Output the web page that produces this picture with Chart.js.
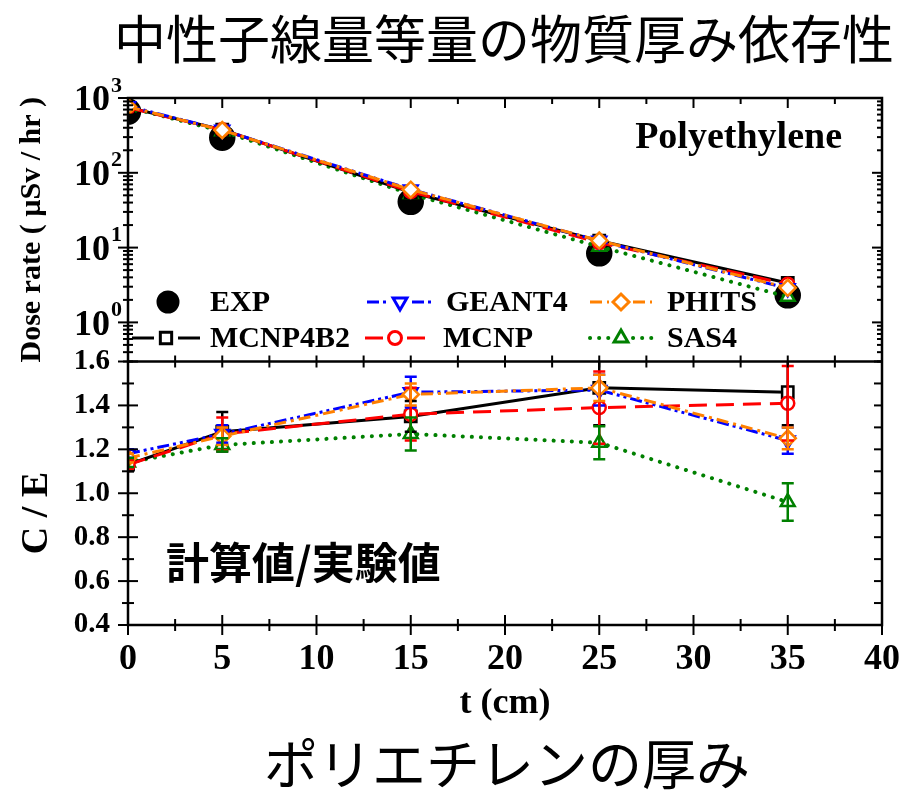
<!DOCTYPE html>
<html>
<head>
<meta charset="utf-8">
<script src="https://cdn.jsdelivr.net/npm/chart.js@4/dist/chart.umd.min.js"></script>
<style>
  html, body { margin: 0; padding: 0; background: #fff; }
  #wrap { width: 915px; height: 790px; }
</style>
</head>
<body>
<div id="wrap"><canvas id="c" width="915" height="790"></canvas></div>
<script>
// thickness of polyethylene (cm)
const thickness = [0, 5, 15, 25, 35];

// dose rate (uSv/hr), top panel
const doseEXP     = [659, 295, 41, 8.4, 2.3];
const doseMCNP4B2 = [745, 378, 55, 12.4, 3.36];
const doseGEANT4  = [778, 375, 60, 12.3, 2.85];
const doseMCNP    = [745, 375, 56, 11.7, 3.24];
const dosePHITS   = [765, 372, 59.5, 12.4, 2.9];
const doseSAS4    = [750, 360, 52, 10.3, 2.2];

// C/E ratio, bottom panel
const ceMCNP4B2 = [1.13, 1.28, 1.35, 1.48, 1.46];
const ceGEANT4  = [1.18, 1.27, 1.46, 1.47, 1.24];
const ceMCNP    = [1.13, 1.27, 1.36, 1.39, 1.41];
const cePHITS   = [1.16, 1.26, 1.45, 1.48, 1.25];
const ceSAS4    = [1.14, 1.22, 1.27, 1.23, 0.96];

// C/E error bars (half width)
const errMCNP4B2 = [0.03, 0.09, 0.07, 0.17, 0.15];
const errGEANT4  = [0.02, 0.04, 0.07, 0.07, 0.06];
const errMCNP    = [0.02, 0.075, 0.12, 0.165, 0.17];
const errPHITS   = [0.02, 0.04, 0.05, 0.06, 0.05];
const errSAS4    = [0.02, 0.03, 0.075, 0.075, 0.085];

// axis tick labels
const doseDecades = [0, 1, 2, 3];
const xTickStep = 5;
const ceTickStep = 0.2;

const SERIF = '"Liberation Serif", "Times New Roman", serif';
const CJK = '"Noto Sans CJK JP", sans-serif';

const styles = {
  EXP:     { color: '#000000', dash: [], ps: 'circle', r: 12, rot: 0, line: false, fill: '#000000' },
  MCNP4B2: { color: '#000000', dash: [], ps: 'rect', r: 8, rot: 0 },
  GEANT4:  { color: '#0000ff', dash: [12, 4, 3, 4, 3, 4], ps: 'triangle', r: 8, rot: 180 },
  MCNP:    { color: '#ff0000', dash: [18, 9], ps: 'circle', r: 6.5, rot: 0 },
  PHITS:   { color: '#ff8000', dash: [12, 5, 3, 5], ps: 'rectRot', r: 8, rot: 0 },
  SAS4:    { color: '#008000', dash: [0.1, 9], ps: 'triangle', r: 8, rot: 0, cap: 'round', width: 4 }
};

function mk(name, vals, axis, order, errs) {
  const s = styles[name];
  return {
    label: name,
    data: thickness.map((t, i) => ({ x: t, y: vals[i] })),
    errors: errs || null,
    yAxisID: axis,
    order: order,
    borderColor: s.color,
    backgroundColor: s.fill || '#ffffff',
    borderWidth: s.width || 3,
    borderDash: s.dash,
    borderCapStyle: s.cap || 'butt',
    showLine: s.line !== false,
    pointStyle: s.ps,
    pointRadius: s.r,
    pointRotation: s.rot,
    pointBorderColor: s.color,
    pointBackgroundColor: s.fill || '#ffffff',
    pointBorderWidth: 2.5,
    clip: 0,
    tension: 0
  };
}

const datasets = [
  mk('EXP', doseEXP, 'yTop', 10),
  mk('MCNP4B2', doseMCNP4B2, 'yTop', 4),
  mk('GEANT4', doseGEANT4, 'yTop', 2),
  mk('MCNP', doseMCNP, 'yTop', 3),
  mk('PHITS', dosePHITS, 'yTop', 1),
  mk('SAS4', doseSAS4, 'yTop', 5),
  mk('MCNP4B2', ceMCNP4B2, 'yBot', 4, errMCNP4B2),
  mk('GEANT4', ceGEANT4, 'yBot', 2, errGEANT4),
  mk('MCNP', ceMCNP, 'yBot', 3, errMCNP),
  mk('PHITS', cePHITS, 'yBot', 1, errPHITS),
  mk('SAS4', ceSAS4, 'yBot', 5, errSAS4)
];

// error bars for the C/E panel
const errorBars = {
  id: 'errorBars',
  afterDatasetsDraw(chart) {
    const { ctx, chartArea: a } = chart;
    const yB = chart.scales.yBot;
    ctx.save();
    ctx.beginPath();
    ctx.rect(a.left, yB.top, a.right - a.left, yB.bottom - yB.top);
    ctx.clip();
    chart.data.datasets.forEach((ds, di) => {
      if (!ds.errors) return;
      const meta = chart.getDatasetMeta(di);
      ctx.strokeStyle = ds.borderColor;
      ctx.lineWidth = 2.5;
      ctx.setLineDash([]);
      meta.data.forEach((pt, i) => {
        const v = ds.data[i].y, e = ds.errors[i];
        const y1 = yB.getPixelForValue(v + e), y2 = yB.getPixelForValue(v - e);
        ctx.beginPath();
        ctx.moveTo(pt.x, y1); ctx.lineTo(pt.x, y2);
        ctx.moveTo(pt.x - 6, y1); ctx.lineTo(pt.x + 6, y1);
        ctx.moveTo(pt.x - 6, y2); ctx.lineTo(pt.x + 6, y2);
        ctx.stroke();
      });
    });
    ctx.restore();
  }
};

// titles, frame, inward ticks, decade labels, legend and notes
const decor = {
  id: 'decor',
  afterDatasetsDraw(chart) {
    const { ctx, chartArea: a, scales } = chart;
    const x = scales.x, yT = scales.yTop, yB = scales.yBot;
    const mid = yT.bottom;
    const seg = (x1, y1, x2, y2) => { ctx.beginPath(); ctx.moveTo(x1, y1); ctx.lineTo(x2, y2); ctx.stroke(); };
    ctx.save();

    // page titles
    ctx.fillStyle = '#000';
    ctx.textAlign = 'center';
    ctx.textBaseline = 'middle';
    ctx.font = '52px ' + CJK;
    ctx.fillText('中性子線量等量の物質厚み依存性', 504, 39);
    ctx.font = '54px ' + CJK;
    ctx.fillText('ポリエチレンの厚み', 507, 764);

    ctx.strokeStyle = '#000';
    ctx.setLineDash([]);
    ctx.lineWidth = 2.5;
    ctx.strokeRect(a.left, a.top, a.right - a.left, a.bottom - a.top);
    seg(a.left, mid, a.right, mid);
    ctx.lineWidth = 2;
    for (let v = x.min; v <= x.max + 1e-9; v += xTickStep / 2) {
      const px = x.getPixelForValue(v);
      const major = Math.abs(v % xTickStep) < 1e-9;
      const L = major ? 10 : 6;
      seg(px, a.top, px, a.top + L);
      seg(px, mid - 6, px, mid + 6);
      seg(px, a.bottom - L, px, a.bottom + L);
    }
    for (let d = -1; d <= 3; d++) {
      for (let m = 1; m <= 9; m++) {
        const v = m * Math.pow(10, d);
        if (v < yT.min - 1e-9 || v > yT.max + 1e-9) continue;
        const py = yT.getPixelForValue(v);
        const L = m === 1 ? 10 : 5;
        seg(a.left - L, py, a.left + L, py);
        seg(a.right - L, py, a.right, py);
      }
    }
    for (let v = yB.min; v <= yB.max + 1e-9; v += ceTickStep / 2) {
      const py = yB.getPixelForValue(v);
      const major = Math.abs(Math.round(v / ceTickStep) * ceTickStep - v) < 1e-6;
      const L = major ? 10 : 6;
      seg(a.left - L, py, a.left + L, py);
      seg(a.right - 8, py, a.right, py);
    }

    // decade labels 10^n
    ctx.fillStyle = '#000';
    doseDecades.forEach(n => {
      const py = yT.getPixelForValue(Math.pow(10, n));
      ctx.font = 'bold 36px ' + SERIF;
      ctx.textAlign = 'right';
      ctx.textBaseline = 'middle';
      ctx.fillText('10', 110, py + 3);
      ctx.font = 'bold 22px ' + SERIF;
      ctx.textAlign = 'left';
      ctx.fillText(String(n), 111, py - 12);
    });

    // C / E axis title
    ctx.save();
    ctx.translate(37, 513);
    ctx.rotate(-Math.PI / 2);
    ctx.font = 'bold 38px ' + SERIF;
    ctx.textAlign = 'center';
    ctx.textBaseline = 'middle';
    ctx.fillText('C / E', 0, 0);
    ctx.restore();

    // notes
    ctx.font = 'bold 38px ' + SERIF;
    ctx.textAlign = 'right';
    ctx.textBaseline = 'alphabetic';
    ctx.fillText('Polyethylene', 842, 148);
    ctx.font = 'bold 43px ' + CJK;
    ctx.textAlign = 'left';
    ctx.textBaseline = 'middle';
    ctx.fillText('計算値/実験値', 166, 563);

    // legend
    const items = [
      { i: 0, lx: 168, y: 302, l1: null, l2: null, tx: 210 },
      { i: 2, lx: 400, y: 302, l1: 367, l2: 433, tx: 446 },
      { i: 4, lx: 621, y: 302, l1: 590, l2: 652, tx: 667 },
      { i: 1, lx: 166, y: 338, l1: 132, l2: 200, tx: 210 },
      { i: 3, lx: 395, y: 338, l1: 365, l2: 425, tx: 443 },
      { i: 5, lx: 621, y: 338, l1: 590, l2: 652, tx: 667 }
    ];
    items.forEach(it => {
      const ds = chart.data.datasets[it.i];
      if (it.l1 !== null) {
        ctx.strokeStyle = ds.borderColor;
        ctx.lineWidth = ds.borderWidth;
        ctx.lineCap = ds.borderCapStyle;
        ctx.setLineDash(ds.borderDash);
        seg(it.l1, it.y, it.lx - 12, it.y);
        seg(it.lx + 12, it.y, it.l2, it.y);
        ctx.setLineDash([]);
        ctx.lineCap = 'butt';
      }
      ctx.strokeStyle = ds.pointBorderColor;
      ctx.fillStyle = ds.pointBackgroundColor;
      ctx.lineWidth = 3;
      Chart.helpers.drawPoint(ctx, {
        pointStyle: ds.pointStyle,
        rotation: ds.pointRotation,
        radius: it.i === 0 ? 10 : ds.pointRadius,
        borderWidth: 3
      }, it.lx, it.y);
      ctx.fillStyle = '#000';
      ctx.font = 'bold 30px ' + SERIF;
      ctx.textAlign = 'left';
      ctx.textBaseline = 'middle';
      ctx.fillText(ds.label, it.tx, it.y + 1);
    });
    ctx.restore();
  }
};

new Chart(document.getElementById('c'), {
  type: 'line',
  data: { datasets: datasets },
  plugins: [errorBars, decor],
  options: {
    responsive: false,
    animation: false,
    devicePixelRatio: 1,
    events: [],
    layout: { padding: { left: 0, right: 33, top: 98, bottom: 54 } },
    plugins: {
      legend: { display: false },
      tooltip: { enabled: false },
      title: { display: false },
      subtitle: { display: false }
    },
    scales: {
      x: {
        type: 'linear',
        position: 'bottom',
        min: 0,
        max: 40,
        grid: { display: false, drawTicks: false },
        border: { display: false },
        ticks: {
          stepSize: xTickStep,
          color: '#000',
          padding: 13,
          font: { family: SERIF, size: 36, weight: 'bold' }
        },
        title: {
          display: true,
          text: 't (cm)',
          color: '#000',
          font: { family: SERIF, size: 36, weight: 'bold' },
          padding: { top: 0, bottom: 11 }
        },
        afterFit(s) { s.height = 111; }
      },
      yBot: {
        type: 'linear',
        position: 'left',
        stack: 'panels',
        stackWeight: 1,
        min: 0.4,
        max: 1.6,
        grid: { display: false, drawTicks: false },
        border: { display: false },
        ticks: {
          stepSize: ceTickStep,
          autoSkip: false,
          color: '#000',
          padding: 18,
          font: { family: SERIF, size: 29, weight: 'bold' },
          callback: v => Number(v).toFixed(1)
        },
        afterFit(s) { s.width = 128; }
      },
      yTop: {
        type: 'logarithmic',
        position: 'left',
        stack: 'panels',
        stackWeight: 1,
        min: 0.3,
        max: 1000,
        grid: { display: false, drawTicks: false },
        border: { display: false },
        ticks: { display: false },
        title: {
          display: true,
          text: 'Dose rate ( µSv / hr )',
          color: '#000',
          font: { family: SERIF, size: 30, weight: 'bold' },
          padding: { top: 14, bottom: 0 }
        },
        afterFit(s) { s.width = 128; }
      }
    }
  }
});
</script>
</body>
</html>
